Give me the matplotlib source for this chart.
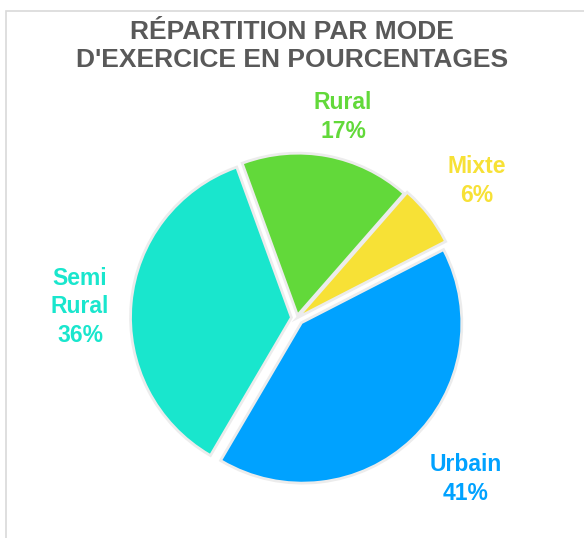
import matplotlib.pyplot as plt
from matplotlib.patches import Rectangle

plt.rcParams['font.family'] = ['Liberation Sans', 'DejaVu Sans']

labels = ['Rural', 'Mixte', 'Urbain', 'Semi\nRural']
values = [17, 6, 41, 36]
colors = ['#62d93a', '#f7e136', '#00a2ff', '#19e6cd']
explode = [0.035, 0.05, 0.05, 0.045]

# label positions (data units, pie radius = 1)
label_pos = [(0.291, 1.272), (1.139, 0.867), (1.070, -1.019), (-1.373, 0.07)]

W, H = 584, 538
cx, cy, r = 297, 318, 158

fig = plt.figure(figsize=(W / 100, H / 100), dpi=100)
fig.patches.append(Rectangle((6 / W, -0.1), 1.2, 1 - 11 / H + 0.1, transform=fig.transFigure,
                             facecolor='white', edgecolor='#d9d9d9', linewidth=1.2,
                             zorder=-1))

ax = fig.add_axes([0, 0, 1, 1])
ax.set_facecolor('none')

# soft shadow underneath
ax.pie(values, explode=explode, startangle=110, counterclock=False, radius=1.0,
       colors=['#ececec'] * len(values),
       wedgeprops=dict(edgecolor='#ececec', linewidth=4))
ax.pie(values, explode=explode, startangle=110, counterclock=False, radius=1.0,
       colors=colors, wedgeprops=dict(edgecolor='none'))

ax.set_xlim(-cx / r, (W - cx) / r)
ax.set_ylim(-(H - cy) / r, cy / r)
ax.set_aspect('auto')
ax.axis('off')

for lab, v, c, (x, y) in zip(labels, values, colors, label_pos):
    ax.text(x, y, f'{lab}\n{v}%', color=c, fontsize=16.5, fontweight='bold',
            ha='center', va='center', linespacing=1.32)

fig.text(292 / W, 1 - 46 / H, "RÉPARTITION PAR MODE\nD'EXERCICE EN POURCENTAGES",
         color='#595959', fontsize=19, fontweight='bold', ha='center', va='center',
         linespacing=1.25)

fig.savefig('out.png', dpi=100)
